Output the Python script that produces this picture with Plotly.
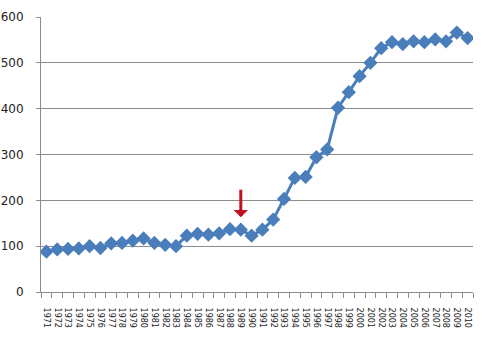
import plotly.graph_objects as go

years = [str(y) for y in range(1971, 2011)]
values = [88, 93, 94, 95, 100, 96, 106, 107, 112, 117,
          107, 103, 100, 123, 127, 125, 128, 137, 136, 123,
          136, 158, 203, 249, 251, 294, 311, 402, 436, 471,
          500, 532, 545, 541, 547, 545, 551, 547, 566, 554]

y_ticks = [0, 100, 200, 300, 400, 500, 600]

marked_year = "1989"
marked_level = 163

line_blue = "#4A7EBB"
grid_gray = "#8C8C8C"

fig = go.Figure()
fig.add_trace(go.Scatter(
    x=years, y=values, mode="lines+markers",
    line=dict(color=line_blue, width=3),
    marker=dict(symbol="diamond", size=11, color=line_blue),
    showlegend=False, hoverinfo="x+y",
))

# red marker arrow above 1989; on a category axis the annotation is
# positioned by category index (a numeric-looking string is read as an index)
fig.add_annotation(
    x=years.index(marked_year), y=marked_level, xref="x", yref="y",
    text=".", font=dict(size=2, color="rgba(0,0,0,0)"),
    showarrow=True, ax=0, ay=-30,
    arrowhead=1, arrowsize=0.8, arrowwidth=3, arrowcolor="#C0111F",
    standoff=0, startstandoff=0,
)

fig.update_layout(
    width=488, height=340,
    margin=dict(l=41, r=15, t=17, b=48, autoexpand=False),
    paper_bgcolor="white", plot_bgcolor="white",
    font=dict(family="DejaVu Sans", color="#222222"),
)
fig.update_xaxes(
    type="category", categoryorder="array", categoryarray=years,
    tickmode="array", tickvals=years, ticktext=years,
    range=[-0.5, len(years) - 0.5],
    tickangle=90, tickfont=dict(size=8, family="DejaVu Sans", color="#222222"),
    ticklabelstandoff=13, automargin=False,
    tickson="boundaries", ticks="outside", ticklen=5, tickcolor=grid_gray,
    showline=True, linecolor=grid_gray, linewidth=1,
    showgrid=False, zeroline=False,
)
fig.update_yaxes(
    range=[0, 600], tickvals=y_ticks,
    tickfont=dict(size=12, family="DejaVu Sans", color="#222222"),
    ticklabelstandoff=10, automargin=False,
    ticks="outside", ticklen=4, tickcolor=grid_gray,
    showline=True, linecolor=grid_gray, linewidth=1,
    showgrid=True, gridcolor=grid_gray, gridwidth=1, zeroline=False,
)

fig.write_html("out.html")
